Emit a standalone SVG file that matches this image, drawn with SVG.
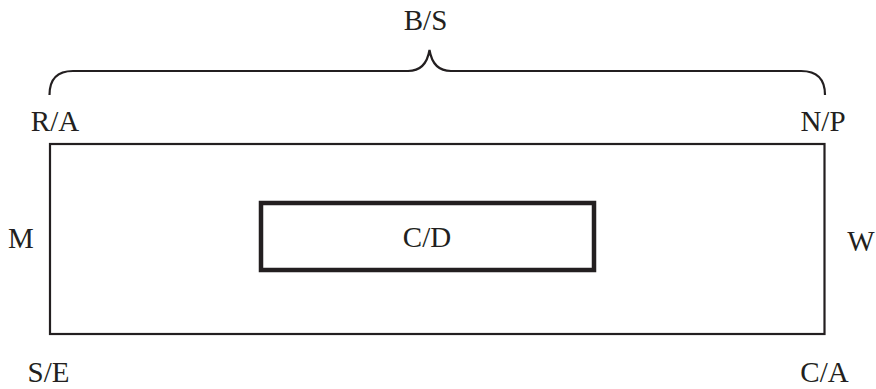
<svg xmlns="http://www.w3.org/2000/svg" width="876" height="389" viewBox="0 0 876 389">
<style>
text{font-family:"Liberation Serif","Times New Roman",serif;font-size:29px;fill:#231f20}
.ln{fill:none;stroke:#231f20;stroke-width:2.2}
</style>
<rect width="876" height="389" fill="#fff"/>
<g id="brace"><path class="ln" d="M49.5,95 Q49.5,71 73,71 L408,71 Q426,71 429.5,50 Q433,71 451,71 L801,71 Q825,71 825,95"/></g>
<g id="outer"><rect class="ln" x="50" y="144" width="774.5" height="190"/></g>
<g id="inner"><rect x="261" y="203" width="333" height="67" fill="none" stroke="#231f20" stroke-width="4.5"/><text x="427" y="247" text-anchor="middle">C/D</text></g>
<g id="labels">
<text x="425.5" y="29.5" text-anchor="middle">B/S</text>
<text x="55" y="131" text-anchor="middle">R/A</text>
<text x="823" y="131" text-anchor="middle">N/P</text>
<text x="21" y="247.5" text-anchor="middle">M</text>
<text x="861" y="251" text-anchor="middle">W</text>
<text x="48.5" y="381.5" text-anchor="middle">S/E</text>
<text x="824.5" y="381.5" text-anchor="middle">C/A</text>
</g>
<g id="connectors"/>
</svg>
